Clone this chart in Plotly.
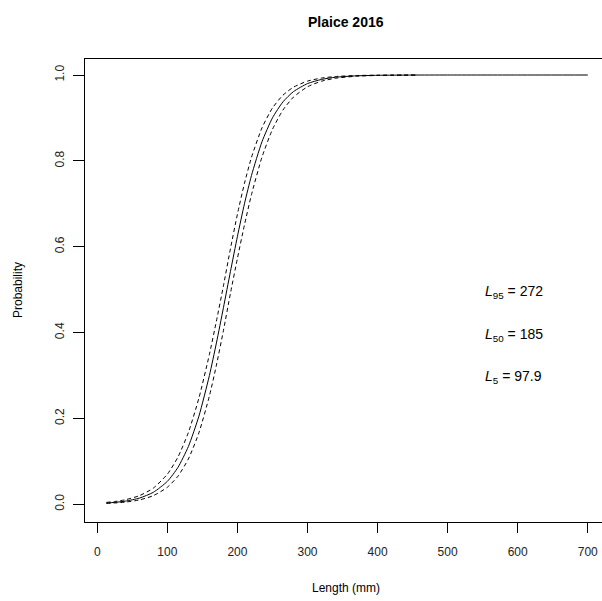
import plotly.graph_objects as go

# Lengths (mm) at which the curves were read
length_fit = [13, 25, 40, 60, 80, 100, 115, 130, 145, 160, 170, 180, 190, 200, 210,
              220, 235, 250, 265, 280, 300, 320, 340, 370, 400, 450, 500, 600, 700]
prob_fit = [0.0030, 0.0044, 0.0073, 0.0143, 0.0279, 0.0534, 0.0856, 0.1346, 0.2052,
            0.300, 0.3758, 0.4579, 0.5421, 0.6242, 0.700, 0.7657, 0.8444, 0.9002,
            0.9375, 0.9614, 0.9800, 0.9897, 0.9948, 0.9981, 0.9993, 0.9999, 1.0, 1.0, 1.0]

length_ci = [13, 25, 40, 60, 80, 100, 115, 130, 145, 160, 170, 180, 190, 200, 210,
             220, 235, 250, 265, 280, 300, 320, 340, 370, 400, 455]
prob_upper = [0.0044, 0.0064, 0.0105, 0.0200, 0.0377, 0.0701, 0.1096, 0.1674, 0.2473,
              0.3493, 0.4269, 0.5088, 0.5952, 0.6760, 0.7476, 0.8078, 0.8767, 0.9232,
              0.9531, 0.9717, 0.9858, 0.9929, 0.9965, 0.9988, 0.9996, 0.9999]
prob_lower = [0.0020, 0.0030, 0.0050, 0.0101, 0.0201, 0.0397, 0.0652, 0.1056, 0.1664,
              0.2524, 0.3240, 0.4048, 0.4912, 0.5731, 0.6507, 0.7210, 0.8085, 0.8734,
              0.9185, 0.9485, 0.9726, 0.9856, 0.9924, 0.9972, 0.9989, 0.9998]

y_ticks = [0.0, 0.2, 0.4, 0.6, 0.8, 1.0]
x_ticks = [0, 100, 200, 300, 400, 500, 600, 700]

stat_labels = ["95", "50", "5"]
stat_values = ["272", "185", "97.9"]
stat_y = [0.5, 0.4, 0.3]

FONT = "Liberation Sans, Arial, sans-serif"

fig = go.Figure()
fig.add_trace(go.Scatter(x=length_ci, y=prob_upper, mode="lines",
                         line=dict(color="black", width=1, dash="4px,3px", shape="spline", smoothing=0.6),
                         hoverinfo="skip"))
fig.add_trace(go.Scatter(x=length_ci, y=prob_lower, mode="lines",
                         line=dict(color="black", width=1, dash="4px,3px", shape="spline", smoothing=0.6),
                         hoverinfo="skip"))
fig.add_trace(go.Scatter(x=length_fit, y=prob_fit, mode="lines",
                         line=dict(color="black", width=1, shape="spline", smoothing=0.6),
                         hoverinfo="skip"))

W, H = 602, 601
L, R, T, B = 85, 602, 59, 522

def px(xp):
    return (xp - L) / (R - L)

def py(yp):
    return (B - yp) / (B - T)

annotations = [
    dict(text="<b>Plaice 2016</b>", x=px(346), y=py(22), xref="paper", yref="paper",
         showarrow=False, font=dict(size=14, family=FONT, color="black"),
         xanchor="center", yanchor="middle"),
    dict(text="Length (mm)", x=px(346), y=py(588), xref="paper", yref="paper",
         showarrow=False, font=dict(size=12, family=FONT, color="black"),
         xanchor="center", yanchor="middle"),
    dict(text="Probability", x=px(18), y=py(290), xref="paper", yref="paper",
         showarrow=False, textangle=-90, font=dict(size=12, family=FONT, color="black"),
         xanchor="center", yanchor="middle"),
]
for lab, val, yv in zip(stat_labels, stat_values, stat_y):
    annotations.append(dict(
        text=f"<i>L</i><sub>{lab}</sub> = {val}", x=550, y=yv, xref="x", yref="y",
        showarrow=False, xanchor="left", yanchor="middle", yshift=-2,
        font=dict(size=14, family=FONT, color="black")))

fig.update_layout(
    width=W, height=H,
    margin=dict(l=L, r=W - R, t=T, b=H - B, pad=0),
    paper_bgcolor="white", plot_bgcolor="white",
    showlegend=False,
    font=dict(family=FONT, size=12, color="black"),
    annotations=annotations,
    xaxis=dict(range=[-17.56, 720.3], tickvals=x_ticks, ticktext=[str(v) for v in x_ticks],
               showline=True, linecolor="black", linewidth=1, mirror=True,
               ticks="outside", ticklen=10, tickwidth=1, tickcolor="black",
               ticklabelstandoff=9, automargin=False,
               showgrid=False, zeroline=False, tickfont=dict(size=12, family=FONT, color="#222")),
    yaxis=dict(range=[-0.0413, 1.0373], tickvals=y_ticks, ticktext=[f"{v:.1f}" for v in y_ticks],
               showline=True, linecolor="black", linewidth=1, mirror=False,
               ticks="outside", ticklen=11, tickwidth=1, tickcolor="black", tickangle=-90,
               ticklabelstandoff=4, automargin=False,
               showgrid=False, zeroline=False, tickfont=dict(size=12, family=FONT, color="#222")),
)

fig.write_html(
    "out.html",
    config={"displayModeBar": False, "staticPlot": True},
    post_script="document.body.style.margin='0';document.body.style.overflow='hidden';",
)
